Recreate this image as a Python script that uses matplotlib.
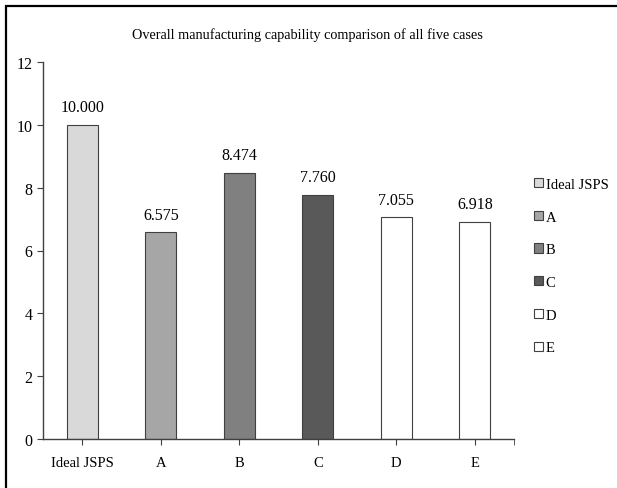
import matplotlib
matplotlib.use('Agg')
import matplotlib.pyplot as plt
from matplotlib.patches import Patch, Rectangle

cases = ["Ideal JSPS", "A", "B", "C", "D", "E"]
scores = [10.000, 6.575, 8.474, 7.760, 7.055, 6.918]
colors = ["#d9d9d9", "#a6a6a6", "#808080", "#595959", "#ffffff", "#ffffff"]
yticks = [0, 2, 4, 6, 8, 10, 12]

plt.rcParams['font.family'] = ['Liberation Serif', 'DejaVu Serif']
plt.rcParams['font.size'] = 10

fig = plt.figure(figsize=(6.17, 4.89), dpi=100)
ax = fig.add_axes([43 / 617, 1 - 440 / 489, (514 - 43) / 617, (440 - 63) / 489])

x = list(range(len(cases)))
bars = ax.bar(x, scores, width=0.4, color=colors, edgecolor="#404040", linewidth=0.8)
for xi, v in zip(x, scores):
    ax.annotate(f"{v:.3f}", (xi, v), xytext=(0, 7), textcoords="offset points",
                ha="center", va="bottom", fontsize=11.5)

ax.set_xlim(-0.5, len(cases) - 0.5)
ax.set_ylim(0, 12)
ax.set_yticks(yticks)
ax.set_xticks(x)
ax.set_xticklabels(cases, fontsize=10.5)
ax.tick_params(axis="y", labelsize=11.5, length=4, color="#404040")
ax.tick_params(axis="x", length=4, color="#404040", pad=8)
ax.set_xticks([len(cases) - 0.5], minor=True)
ax.tick_params(axis="x", which="minor", length=4, color="#404040")
for s in ["top", "right"]:
    ax.spines[s].set_visible(False)
for s in ["left", "bottom"]:
    ax.spines[s].set_color("#404040")
    ax.spines[s].set_linewidth(1.0)

fig.text((133 + 482) / 2 / 617, 1 - 35 / 489,
         "Overall manufacturing capability comparison of all five cases",
         ha="center", va="center", fontsize=10.3)

handles = [Patch(facecolor=c, edgecolor="#404040", linewidth=0.8) for c in colors]
fig.legend(handles, cases, loc="upper left", bbox_to_anchor=(528 / 617, 1 - 173 / 489),
           frameon=False, fontsize=10.5, handlelength=0.6, handleheight=0.6,
           handletextpad=0.2, labelspacing=1.35, borderaxespad=0)

fig.patches.append(Rectangle((6 / 617, -0.1), 1.2, 1 - 7 / 489 + 0.1,
                             transform=fig.transFigure, fill=False,
                             edgecolor="black", linewidth=1.6))

fig.savefig("out.png", dpi=100)
